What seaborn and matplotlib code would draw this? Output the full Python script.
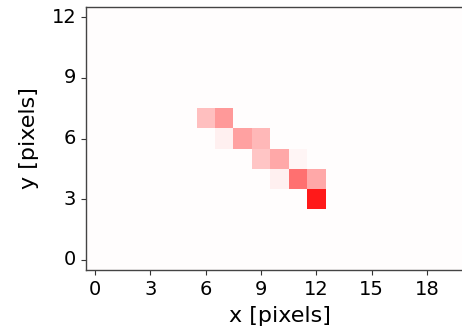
import numpy as np
import matplotlib
matplotlib.use("Agg")
import matplotlib.pyplot as plt
from matplotlib.colors import LinearSegmentedColormap
import seaborn as sns

# Detector grid size (columns x rows)
n_cols = 21
n_rows = 13

# Lit pixels: column, row and normalised intensity
hit_x = [6, 7, 7, 8, 9, 9, 10, 11, 10, 11, 12, 12]
hit_y = [7, 7, 6, 6, 6, 5, 5, 5, 4, 4, 4, 3]
hit_val = [0.25, 0.40, 0.06, 0.37, 0.28, 0.23, 0.34, 0.04, 0.06, 0.56, 0.34, 0.90]
background = 0.008

x_ticks = [0, 3, 6, 9, 12, 15, 18]
y_ticks = [0, 3, 6, 9, 12]

grid = np.full((n_rows, n_cols), background)
for xi, yi, v in zip(hit_x, hit_y, hit_val):
    grid[yi, xi] = v

cmap = LinearSegmentedColormap.from_list("white_red", ["#ffffff", "#ff0000"])

fig = plt.figure(figsize=(4.62, 3.35), dpi=100)
ax = fig.add_axes([0.186, 0.194, 0.838, 0.785])

sns.heatmap(grid, ax=ax, cmap=cmap, vmin=0, vmax=1, cbar=False,
            square=False, linewidths=0)

# Row 0 at the bottom, pixel centres labelled by integer coordinates
ax.set_ylim(0, n_rows)
ax.set_xlim(0, n_cols)
ax.set_xticks([t + 0.5 for t in x_ticks])
ax.set_xticklabels([str(t) for t in x_ticks], rotation=0)
ax.set_yticks([t + 0.5 for t in y_ticks])
ax.set_yticklabels([str(t) for t in y_ticks], rotation=0)
ax.tick_params(labelsize=14, length=3.5, width=0.8, color="#333333")

for side in ["left", "bottom", "top", "right"]:
    ax.spines[side].set_visible(True)
    ax.spines[side].set_color("#444444")
    ax.spines[side].set_linewidth(1.0)

ax.set_xlabel("x [pixels]", fontsize=16, labelpad=5)
ax.set_ylabel("y [pixels]", fontsize=16, labelpad=9)

fig.savefig("out.png", dpi=100)
